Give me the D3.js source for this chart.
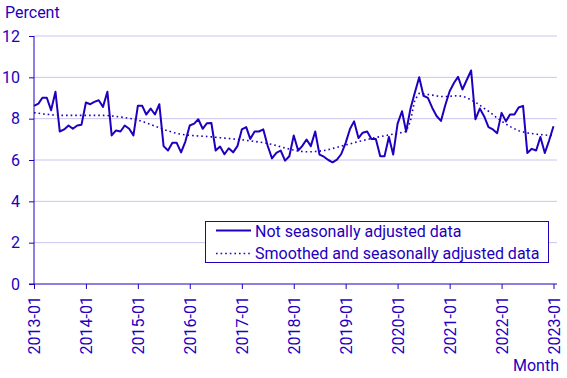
<!DOCTYPE html>
<html><head><meta charset="utf-8">
<script src="https://cdn.jsdelivr.net/npm/d3@7"></script>
<style>body{margin:0;background:#fff}svg{display:block}text{font-family:Roboto,"Noto Sans",sans-serif}</style>
</head><body><svg id="c" width="567" height="378"></svg>
<script>
const startMonth = "2013-01";
const tickLabels = ["2013-01","2014-01","2015-01","2016-01","2017-01","2018-01","2019-01","2020-01","2021-01","2022-01","2023-01"];
const yTicks = [0,2,4,6,8,10,12];
const notAdjusted = [
8.62,8.73,9.01,9.01,8.41,9.30,7.38,7.48,7.67,7.51,7.67,7.71,
8.78,8.70,8.81,8.89,8.57,9.30,7.19,7.43,7.38,7.67,7.51,7.19,
8.62,8.62,8.20,8.49,8.20,8.70,6.67,6.46,6.83,6.83,6.37,6.89,
7.67,7.76,7.97,7.51,7.78,7.79,6.46,6.65,6.28,6.57,6.37,6.67,
7.48,7.59,7.02,7.38,7.38,7.48,6.70,6.08,6.34,6.46,5.97,6.18,
7.19,6.46,6.67,6.99,6.67,7.38,6.26,6.16,6.00,5.89,6.02,6.29,
6.83,7.51,7.87,7.06,7.32,7.38,7.02,7.02,6.18,6.18,7.11,6.26,
7.76,8.36,7.38,8.49,9.25,10.00,9.11,9.01,8.52,8.13,7.89,8.65,
9.33,9.74,10.02,9.41,9.87,10.33,7.97,8.49,8.11,7.59,7.48,7.30,
8.28,7.87,8.20,8.20,8.54,8.62,6.34,6.54,6.46,7.11,6.34,6.94,
7.63];
const smoothed = [
8.29,8.26,8.23,8.21,8.19,8.17,8.16,8.16,8.16,8.16,8.16,8.16,
8.16,8.16,8.16,8.16,8.16,8.15,8.13,8.11,8.08,8.05,8.02,7.98,
7.93,7.87,7.80,7.72,7.64,7.56,7.48,7.41,7.34,7.29,7.25,7.22,
7.19,7.18,7.16,7.15,7.14,7.12,7.10,7.08,7.06,7.04,7.02,7.00,
6.98,6.95,6.93,6.90,6.87,6.84,6.80,6.75,6.70,6.64,6.58,6.53,
6.48,6.43,6.41,6.40,6.40,6.41,6.43,6.46,6.50,6.56,6.61,6.67,
6.73,6.78,6.84,6.89,6.94,6.99,7.04,7.09,7.13,7.17,7.21,7.25,
7.29,7.33,7.38,7.90,8.90,9.22,9.20,9.17,9.14,9.10,9.07,9.07,
9.08,9.10,9.11,9.08,9.02,8.90,8.80,8.65,8.50,8.36,8.20,8.03,
7.88,7.74,7.62,7.51,7.42,7.36,7.31,7.28,7.25,7.23,7.21,7.19,
7.18];
const seriesNames = ["Not seasonally adjusted data","Smoothed and seasonally adjusted data"];

const col = "#1e00be", grid = "#c8c6f0";
const svg = d3.select("#c");
const parse = d3.timeParse("%Y-%m");
const t0 = parse(startMonth);
const dates = notAdjusted.map((d,i)=>d3.timeMonth.offset(t0,i));
const x = d3.scaleTime().domain([t0, parse("2023-01")]).range([34, 553.5]);
const y = d3.scaleLinear().domain([0,12]).range([284, 36]);

// gridlines
svg.append("g").selectAll("line").data(yTicks.filter(v=>v>0)).join("line")
  .attr("x1",34).attr("x2",557).attr("y1",d=>y(d)).attr("y2",d=>y(d))
  .attr("stroke",grid).attr("stroke-width",1);

// y axis
const ya = svg.append("g").attr("transform","translate(34,0)")
  .call(d3.axisLeft(y).tickValues(yTicks).tickSize(5).tickPadding(9).tickFormat(d3.format("d")));
ya.select(".domain").remove();
ya.append("line").attr("x1",0).attr("x2",0).attr("y1",36).attr("y2",284).attr("stroke",col);
ya.selectAll(".tick line").attr("stroke",col);
ya.selectAll(".tick text").attr("fill",col).style("font-size","16px").style("font-family","Roboto");

// x axis
const xa = svg.append("g").attr("transform","translate(0,284)")
  .call(d3.axisBottom(x).tickValues(tickLabels.map(parse)).tickSize(5).tickFormat(d3.timeFormat("%Y-%m")));
xa.select(".domain").remove();
xa.append("line").attr("x1",29).attr("x2",557).attr("y1",0).attr("y2",0).attr("stroke",col);
xa.selectAll(".tick line").attr("stroke",col);
xa.selectAll(".tick text").attr("fill",col).style("font-size","16px").style("font-family","Roboto")
  .attr("text-anchor","end").attr("transform","rotate(-90)").attr("x",-12).attr("y",0).attr("dy","0.35em");

// lines
const ln = d3.line().x((d,i)=>x(dates[i])).y(d=>y(d));
svg.append("path").datum(smoothed).attr("d",ln).attr("fill","none").attr("stroke",col)
  .attr("stroke-width",1.6).attr("stroke-dasharray","1.6,3");
svg.append("path").datum(notAdjusted).attr("d",ln).attr("fill","none").attr("stroke",col)
  .attr("stroke-width",2).attr("stroke-linejoin","round");

// titles
svg.append("text").attr("x",5).attr("y",18).attr("fill",col).style("font-size","16px").text("Percent");
svg.append("text").attr("x",559).attr("y",371).attr("text-anchor","end").attr("fill",col).style("font-size","16px").text("Month");

// legend
const lg = svg.append("g");
lg.append("rect").attr("x",205.5).attr("y",221.5).attr("width",343).attr("height",41)
  .attr("fill","#fff").attr("stroke",col).attr("stroke-width",1);
lg.append("line").attr("x1",216).attr("x2",251).attr("y1",230.5).attr("y2",230.5).attr("stroke",col).attr("stroke-width",2);
lg.append("line").attr("x1",216).attr("x2",251).attr("y1",253.5).attr("y2",253.5).attr("stroke",col)
  .attr("stroke-width",1.6).attr("stroke-dasharray","1.6,3");
lg.selectAll("text.l").data(seriesNames).join("text").attr("class","l")
  .attr("x",255).attr("y",(d,i)=>236.5+i*22).attr("fill",col).style("font-size","16px").text(d=>d);
</script></body></html>
